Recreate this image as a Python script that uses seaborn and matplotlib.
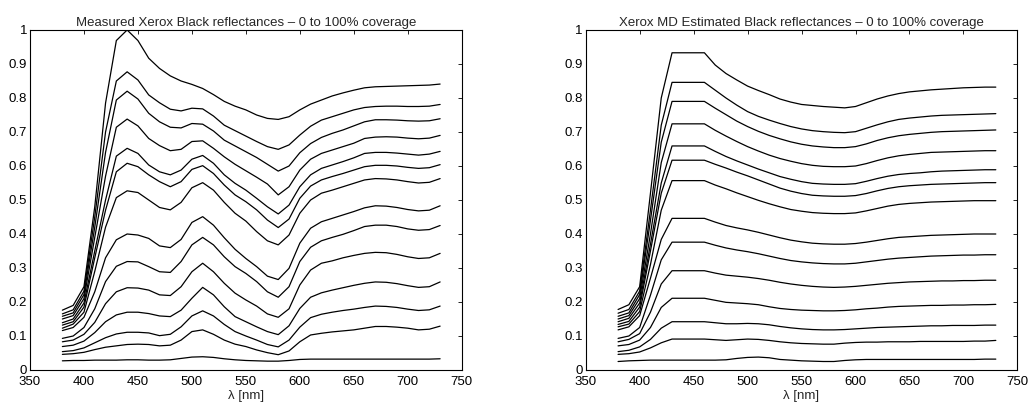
import numpy as np
import pandas as pd
import matplotlib
matplotlib.use("Agg")
import matplotlib.pyplot as plt
import seaborn as sns

wavelengths = list(range(380, 731, 10))

measured_1 = [0.176, 0.19, 0.245, 0.48, 0.785, 0.969, 1.0, 0.969, 0.917, 0.887, 0.865, 0.85, 0.84, 0.828, 0.81, 0.79, 0.776, 0.765, 0.75, 0.74, 0.737, 0.745, 0.765, 0.782, 0.794, 0.806, 0.815, 0.823, 0.83, 0.833, 0.834, 0.835, 0.836, 0.837, 0.838, 0.841]
measured_2 = [0.165, 0.177, 0.232, 0.45, 0.70, 0.85, 0.877, 0.853, 0.809, 0.786, 0.767, 0.762, 0.77, 0.768, 0.747, 0.72, 0.704, 0.688, 0.672, 0.657, 0.649, 0.662, 0.691, 0.717, 0.735, 0.745, 0.755, 0.765, 0.772, 0.775, 0.776, 0.776, 0.775, 0.775, 0.776, 0.781]
measured_3 = [0.158, 0.168, 0.222, 0.42, 0.64, 0.794, 0.82, 0.797, 0.755, 0.73, 0.714, 0.712, 0.725, 0.723, 0.703, 0.676, 0.659, 0.642, 0.625, 0.605, 0.585, 0.6, 0.639, 0.666, 0.684, 0.696, 0.706, 0.718, 0.73, 0.736, 0.736, 0.735, 0.733, 0.732, 0.733, 0.739]
measured_4 = [0.15, 0.16, 0.21, 0.39, 0.57, 0.714, 0.738, 0.718, 0.681, 0.66, 0.645, 0.649, 0.672, 0.674, 0.652, 0.627, 0.605, 0.586, 0.567, 0.547, 0.515, 0.539, 0.588, 0.62, 0.637, 0.647, 0.657, 0.667, 0.681, 0.685, 0.686, 0.685, 0.682, 0.68, 0.682, 0.69]
measured_5 = [0.139, 0.15, 0.197, 0.35, 0.5, 0.629, 0.652, 0.637, 0.603, 0.583, 0.574, 0.588, 0.62, 0.631, 0.608, 0.574, 0.549, 0.529, 0.505, 0.48, 0.459, 0.485, 0.539, 0.574, 0.593, 0.603, 0.613, 0.624, 0.637, 0.64, 0.64, 0.638, 0.635, 0.632, 0.635, 0.643]
measured_6 = [0.132, 0.142, 0.185, 0.33, 0.47, 0.583, 0.608, 0.598, 0.574, 0.554, 0.539, 0.554, 0.59, 0.601, 0.578, 0.544, 0.515, 0.495, 0.471, 0.441, 0.419, 0.444, 0.505, 0.541, 0.559, 0.569, 0.578, 0.588, 0.598, 0.602, 0.602, 0.6, 0.596, 0.593, 0.595, 0.604]
measured_7 = [0.123, 0.135, 0.17, 0.29, 0.42, 0.507, 0.527, 0.522, 0.5, 0.478, 0.471, 0.493, 0.536, 0.551, 0.529, 0.493, 0.461, 0.438, 0.407, 0.38, 0.368, 0.397, 0.461, 0.5, 0.52, 0.529, 0.539, 0.549, 0.559, 0.563, 0.562, 0.559, 0.554, 0.55, 0.552, 0.563]
measured_8 = [0.116, 0.125, 0.155, 0.23, 0.33, 0.383, 0.4, 0.397, 0.387, 0.365, 0.36, 0.384, 0.434, 0.451, 0.426, 0.389, 0.355, 0.328, 0.304, 0.276, 0.266, 0.299, 0.373, 0.417, 0.436, 0.446, 0.456, 0.466, 0.477, 0.483, 0.482, 0.478, 0.472, 0.468, 0.47, 0.483]
measured_9 = [0.093, 0.1, 0.125, 0.18, 0.26, 0.305, 0.319, 0.318, 0.304, 0.289, 0.287, 0.319, 0.368, 0.39, 0.368, 0.333, 0.304, 0.284, 0.26, 0.23, 0.214, 0.245, 0.319, 0.361, 0.38, 0.39, 0.399, 0.41, 0.422, 0.426, 0.426, 0.422, 0.415, 0.411, 0.413, 0.425]
measured_10 = [0.083, 0.088, 0.105, 0.14, 0.195, 0.23, 0.242, 0.241, 0.235, 0.221, 0.219, 0.245, 0.289, 0.314, 0.289, 0.255, 0.226, 0.206, 0.188, 0.165, 0.155, 0.18, 0.25, 0.294, 0.314, 0.321, 0.33, 0.337, 0.343, 0.346, 0.345, 0.34, 0.333, 0.328, 0.33, 0.343]
measured_11 = [0.069, 0.073, 0.085, 0.11, 0.142, 0.162, 0.17, 0.17, 0.166, 0.159, 0.157, 0.176, 0.211, 0.243, 0.221, 0.186, 0.157, 0.142, 0.127, 0.113, 0.104, 0.13, 0.181, 0.214, 0.227, 0.235, 0.242, 0.249, 0.255, 0.259, 0.258, 0.254, 0.248, 0.243, 0.245, 0.259]
measured_12 = [0.054, 0.057, 0.065, 0.08, 0.095, 0.106, 0.111, 0.111, 0.109, 0.101, 0.105, 0.127, 0.159, 0.174, 0.159, 0.134, 0.113, 0.1, 0.088, 0.075, 0.068, 0.088, 0.126, 0.154, 0.164, 0.17, 0.175, 0.179, 0.184, 0.188, 0.187, 0.184, 0.179, 0.175, 0.177, 0.188]
measured_13 = [0.046, 0.048, 0.052, 0.06, 0.067, 0.071, 0.075, 0.076, 0.075, 0.071, 0.073, 0.088, 0.113, 0.118, 0.105, 0.088, 0.076, 0.069, 0.059, 0.051, 0.045, 0.056, 0.083, 0.103, 0.108, 0.112, 0.115, 0.118, 0.123, 0.128, 0.128, 0.126, 0.123, 0.118, 0.12, 0.129]
measured_14 = [0.027, 0.028, 0.028, 0.029, 0.029, 0.029, 0.03, 0.03, 0.029, 0.029, 0.03, 0.034, 0.038, 0.039, 0.037, 0.033, 0.03, 0.028, 0.027, 0.026, 0.026, 0.028, 0.031, 0.032, 0.032, 0.032, 0.032, 0.032, 0.032, 0.032, 0.032, 0.032, 0.032, 0.032, 0.032, 0.033]

estimated_1 = [0.178, 0.192, 0.245, 0.52, 0.8, 0.933, 0.933, 0.933, 0.933, 0.897, 0.872, 0.853, 0.835, 0.822, 0.81, 0.797, 0.788, 0.781, 0.778, 0.775, 0.773, 0.771, 0.775, 0.786, 0.797, 0.806, 0.813, 0.818, 0.821, 0.824, 0.826, 0.828, 0.83, 0.831, 0.832, 0.832]
estimated_2 = [0.167, 0.178, 0.232, 0.47, 0.72, 0.846, 0.846, 0.846, 0.846, 0.823, 0.8, 0.779, 0.76, 0.746, 0.735, 0.725, 0.716, 0.709, 0.704, 0.701, 0.699, 0.698, 0.701, 0.711, 0.721, 0.73, 0.737, 0.741, 0.744, 0.747, 0.749, 0.75, 0.751, 0.752, 0.753, 0.754]
estimated_3 = [0.158, 0.168, 0.222, 0.44, 0.67, 0.79, 0.79, 0.79, 0.79, 0.77, 0.751, 0.732, 0.716, 0.702, 0.69, 0.68, 0.671, 0.664, 0.659, 0.656, 0.654, 0.654, 0.657, 0.665, 0.675, 0.683, 0.689, 0.693, 0.696, 0.699, 0.701, 0.702, 0.703, 0.704, 0.705, 0.706]
estimated_4 = [0.15, 0.16, 0.21, 0.4, 0.61, 0.724, 0.724, 0.724, 0.724, 0.705, 0.688, 0.672, 0.657, 0.644, 0.632, 0.622, 0.614, 0.607, 0.602, 0.599, 0.598, 0.598, 0.6, 0.607, 0.616, 0.624, 0.63, 0.634, 0.637, 0.64, 0.641, 0.642, 0.643, 0.644, 0.645, 0.645]
estimated_5 = [0.142, 0.152, 0.197, 0.37, 0.55, 0.659, 0.659, 0.659, 0.659, 0.643, 0.628, 0.615, 0.603, 0.591, 0.58, 0.569, 0.561, 0.554, 0.549, 0.547, 0.546, 0.546, 0.548, 0.555, 0.563, 0.57, 0.575, 0.578, 0.58, 0.583, 0.585, 0.586, 0.587, 0.588, 0.589, 0.589]
estimated_6 = [0.134, 0.143, 0.185, 0.35, 0.52, 0.617, 0.617, 0.617, 0.617, 0.605, 0.594, 0.582, 0.571, 0.559, 0.547, 0.535, 0.526, 0.519, 0.514, 0.512, 0.511, 0.511, 0.513, 0.519, 0.527, 0.534, 0.539, 0.542, 0.544, 0.546, 0.547, 0.548, 0.549, 0.55, 0.551, 0.551]
estimated_7 = [0.127, 0.135, 0.172, 0.31, 0.47, 0.557, 0.557, 0.557, 0.557, 0.544, 0.533, 0.521, 0.51, 0.499, 0.489, 0.48, 0.472, 0.467, 0.463, 0.461, 0.46, 0.46, 0.462, 0.468, 0.475, 0.482, 0.487, 0.49, 0.492, 0.494, 0.495, 0.496, 0.497, 0.498, 0.498, 0.498]
estimated_8 = [0.118, 0.127, 0.16, 0.27, 0.384, 0.446, 0.446, 0.446, 0.446, 0.435, 0.425, 0.418, 0.412, 0.405, 0.397, 0.389, 0.382, 0.377, 0.373, 0.371, 0.37, 0.37, 0.372, 0.376, 0.381, 0.386, 0.39, 0.392, 0.394, 0.396, 0.397, 0.398, 0.399, 0.4, 0.4, 0.4]
estimated_9 = [0.093, 0.1, 0.125, 0.22, 0.324, 0.376, 0.376, 0.376, 0.376, 0.367, 0.359, 0.353, 0.348, 0.342, 0.335, 0.328, 0.322, 0.318, 0.315, 0.313, 0.312, 0.312, 0.314, 0.318, 0.322, 0.326, 0.329, 0.331, 0.333, 0.335, 0.336, 0.337, 0.338, 0.338, 0.339, 0.339]
estimated_10 = [0.083, 0.09, 0.107, 0.17, 0.253, 0.292, 0.292, 0.292, 0.292, 0.285, 0.279, 0.276, 0.273, 0.269, 0.264, 0.258, 0.253, 0.249, 0.246, 0.244, 0.243, 0.244, 0.246, 0.249, 0.252, 0.255, 0.257, 0.259, 0.26, 0.261, 0.262, 0.262, 0.263, 0.263, 0.264, 0.264]
estimated_11 = [0.071, 0.075, 0.088, 0.125, 0.184, 0.211, 0.211, 0.211, 0.211, 0.205, 0.199, 0.197, 0.195, 0.192, 0.186, 0.181, 0.178, 0.176, 0.175, 0.174, 0.174, 0.175, 0.177, 0.18, 0.182, 0.185, 0.187, 0.188, 0.189, 0.19, 0.19, 0.191, 0.191, 0.192, 0.192, 0.193]
estimated_12 = [0.054, 0.058, 0.068, 0.09, 0.123, 0.142, 0.142, 0.142, 0.142, 0.139, 0.136, 0.136, 0.137, 0.136, 0.133, 0.128, 0.124, 0.121, 0.119, 0.118, 0.118, 0.119, 0.121, 0.123, 0.125, 0.126, 0.127, 0.128, 0.129, 0.13, 0.13, 0.131, 0.131, 0.131, 0.132, 0.132]
estimated_13 = [0.046, 0.048, 0.053, 0.065, 0.08, 0.091, 0.091, 0.091, 0.091, 0.089, 0.087, 0.089, 0.091, 0.09, 0.087, 0.083, 0.08, 0.078, 0.077, 0.076, 0.076, 0.079, 0.081, 0.082, 0.082, 0.083, 0.083, 0.083, 0.084, 0.084, 0.084, 0.084, 0.084, 0.085, 0.085, 0.087]
estimated_14 = [0.025, 0.027, 0.028, 0.029, 0.029, 0.029, 0.029, 0.029, 0.029, 0.029, 0.03, 0.034, 0.037, 0.038, 0.036, 0.031, 0.029, 0.027, 0.026, 0.025, 0.025, 0.028, 0.03, 0.031, 0.031, 0.031, 0.031, 0.031, 0.031, 0.031, 0.031, 0.031, 0.031, 0.031, 0.032, 0.032]

measured = [measured_1, measured_2, measured_3, measured_4, measured_5, measured_6, measured_7,
            measured_8, measured_9, measured_10, measured_11, measured_12, measured_13, measured_14]
estimated = [estimated_1, estimated_2, estimated_3, estimated_4, estimated_5, estimated_6, estimated_7,
             estimated_8, estimated_9, estimated_10, estimated_11, estimated_12, estimated_13, estimated_14]

titles = ["Measured Xerox Black reflectances \u2013 0 to 100% coverage",
          "Xerox MD Estimated Black reflectances \u2013 0 to 100% coverage"]
xlabel = "\u03bb [nm]"
xticks = [350, 400, 450, 500, 550, 600, 650, 700, 750]
yticks = [0, 0.1, 0.2, 0.3, 0.4, 0.5, 0.6, 0.7, 0.8, 0.9, 1]
yticklabels = ["0", "0.1", "0.2", "0.3", "0.4", "0.5", "0.6", "0.7", "0.8", "0.9", "1"]


def to_long(curves):
    rows = []
    for i, c in enumerate(curves):
        for w, v in zip(wavelengths, c):
            rows.append({"wl": w, "r": v, "curve": i})
    return pd.DataFrame(rows)


sns.set_style("white")
plt.rcParams['font.family'] = ['Liberation Sans', 'DejaVu Sans']

fig = plt.figure(figsize=(10.29, 4.07), dpi=100)
ax1 = fig.add_axes([30 / 1029, 37 / 407, 431.7 / 1029, 340 / 407])
ax2 = fig.add_axes([585.7 / 1029, 37 / 407, 431.7 / 1029, 340 / 407])

for ax, curves, title in [(ax1, measured, titles[0]), (ax2, estimated, titles[1])]:
    df = to_long(curves)
    sns.lineplot(data=df, x="wl", y="r", hue="curve", palette=["black"] * len(curves),
                 legend=False, ax=ax, linewidth=0.9, errorbar=None, estimator=None)
    ax.set_xlim(350, 750)
    ax.set_ylim(0, 1)
    ax.set_xticks(xticks)
    ax.set_xticklabels([str(t) for t in xticks])
    ax.set_yticks(yticks)
    ax.set_yticklabels(yticklabels)
    ax.tick_params(direction="in", top=True, right=True, length=3, width=0.6,
                   labelsize=9.5, colors="black")
    ax.tick_params(axis="y", pad=2)
    ax.tick_params(axis="x", pad=4)
    for s in ax.spines.values():
        s.set_color("black")
        s.set_linewidth(0.8)
    ax.set_title(title, fontsize=9.5, pad=3)
    ax.set_xlabel(xlabel, fontsize=9.5, labelpad=2)
    ax.set_ylabel("")

fig.savefig("out.png", dpi=100)
